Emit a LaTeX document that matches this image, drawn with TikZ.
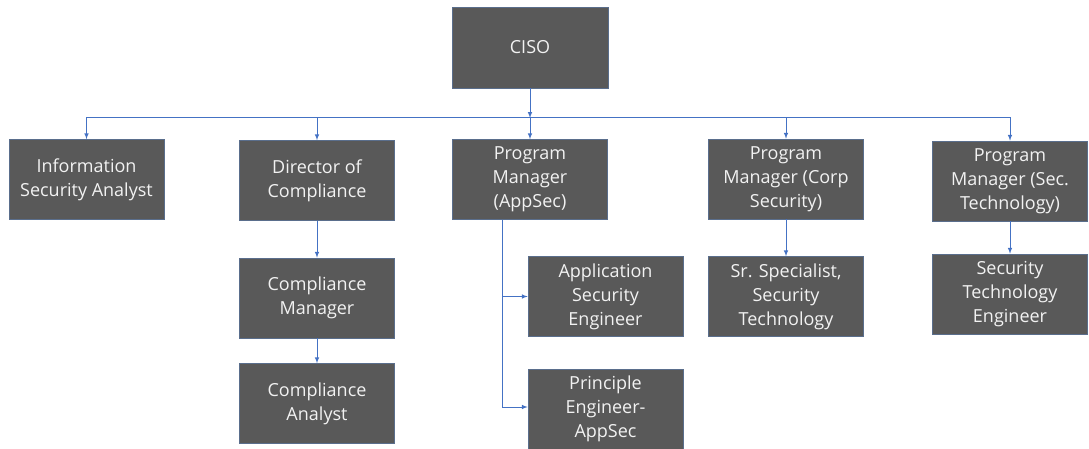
\documentclass[tikz,border=0pt]{standalone}
\usepackage{fontspec}
\setmainfont{Open Sans}
\usepackage{tikz}
\usetikzlibrary{positioning}
\definecolor{boxgray}{HTML}{595959}
\definecolor{boxedge}{HTML}{5A6E8C}
\definecolor{linkblue}{HTML}{4472C4}

\begin{document}
\begin{tikzpicture}[x=1pt,y=-1pt]
\tikzstyle{role}=[rectangle, minimum width=155pt, minimum height=80pt, fill=boxgray, draw=boxedge, line width=0.6pt, text=white!95!black, align=center, font=\fontsize{18}{24}\selectfont, inner sep=2pt]
\tikzstyle{connect}=[-latex, draw=linkblue, line width=1pt]
\useasboundingbox (0,0) rectangle (1089,449);
  \node[role, minimum width=156pt, minimum height=81pt] (ciso) at (530,47.5) {CISO};
  \node[role] (info) at (86.5,179.5) {Information\\Security Analyst};
  \node[role] (dir) at (317,180.5) {Director of\\Compliance};
  \node[role] (pmapp) at (530,179.5) {Program\\Manager\\(AppSec)};
  \node[role] (pmcorp) at (786,179) {Program\\Manager (Corp\\Security)};
  \node[role] (pmsec) at (1010,181) {Program\\Manager (Sec.\\Technology)};
  \node[role] (cmgr) at (317,298) {Compliance\\Manager};
  \node[role] (canal) at (317,403.5) {Compliance\\Analyst};
  \node[role] (ase) at (605.5,296.5) {Application\\Security\\Engineer};
  \node[role] (pe) at (605.5,409) {Principle\\Engineer-\\AppSec};
  \node[role] (sr) at (786,296.5) {Sr. Specialist,\\Security\\Technology};
  \node[role] (ste) at (1010,294) {Security\\Technology\\Engineer};
  \coordinate (bus) at (530,118);
  \coordinate (trunk) at (502,220);
  \path (ciso) edge [connect] (bus)
        (bus) edge [connect] (pmapp)
        (dir) edge [connect] (cmgr)
        (cmgr) edge [connect] (canal)
        (pmcorp) edge [connect] (sr)
        (pmsec) edge [connect] (ste);
  \draw[connect] (bus) -| (info.north);
  \draw[connect] (bus) -| (dir.north);
  \draw[connect] (bus) -| (pmcorp.north);
  \draw[connect] (bus) -| (pmsec.north);
  \draw[connect] (trunk) |- (ase.west);
  \draw[connect] (trunk) |- ([yshift=2pt]pe.west);
\end{tikzpicture}
\end{document}
